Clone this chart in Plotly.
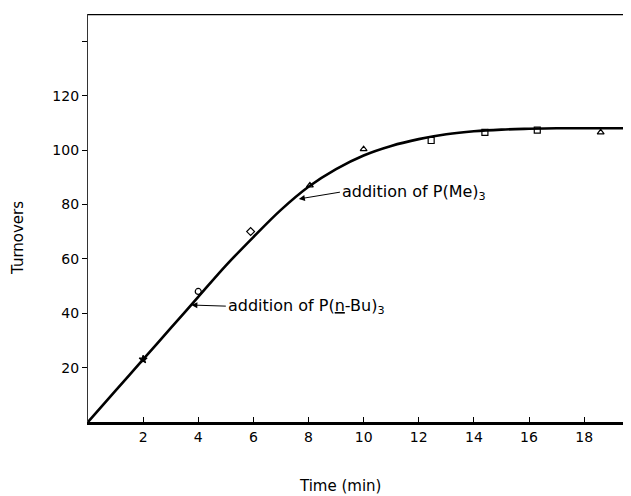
import plotly.graph_objects as go

# Measured points
time_pts = [2.0, 4.0, 5.9, 8.05, 10.0, 12.45, 14.4, 16.3, 18.6]
turnover_pts = [23, 48, 70, 87, 100.3, 103.5, 106.5, 107.3, 106.5]
point_symbols = ["star", "circle-open", "diamond-open", "triangle-up-open",
                 "triangle-up-open", "square-open", "square-open",
                 "square-open", "triangle-up-open"]

# Smooth fitted curve
curve_time = [0, 1, 2, 3, 4, 5, 6, 7, 8, 9, 10, 11, 12, 13, 14, 15, 16, 17, 18, 19, 19.7]
curve_turnovers = [0, 11.5, 23, 34.5, 46, 57.5, 68, 78, 86.5, 93, 98, 101.5, 104, 105.8,
                   106.9, 107.5, 107.8, 108, 108, 108, 108]

x_tickvals = [2, 4, 6, 8, 10, 12, 14, 16, 18]
y_tickvals = [20, 40, 60, 80, 100, 120, 140]
y_ticktext = ["20", "40", "60", "80", "100", "120", " "]

FONT = "DejaVu Sans"

# page body has an 8px margin; figure sized so it fills the window
W, H = 623, 488
L, R, T, B = 80, 0, 6, 74
PW, PH = W - L - R, H - T - B


def px(xw):
    return (xw - 8 - L) / PW


def py(yw):
    return (H - B - (yw - 8)) / PH


fig = go.Figure()
fig.add_trace(go.Scatter(x=curve_time, y=curve_turnovers, mode="lines",
                         line=dict(color="black", width=2.6, shape="spline"),
                         hoverinfo="skip", showlegend=False))
fig.add_trace(go.Scatter(x=time_pts, y=turnover_pts, mode="markers",
                         marker=dict(symbol=point_symbols, size=6, color="black",
                                     line=dict(color="black", width=1.2)),
                         showlegend=False))

# labelled arrows (arrow tip on the curve, text box at the tail)
fig.add_annotation(x=7.65, y=82, ax=9.14, ay=84.5, xref="x", yref="y", axref="x", ayref="y",
                   xanchor="left", yanchor="middle",
                   text="addition of P(Me)<sub>3</sub>", showarrow=True,
                   arrowhead=2, arrowsize=1.2, arrowwidth=1, arrowcolor="black",
                   font=dict(family=FONT, size=16, color="black"))
fig.add_annotation(x=3.75, y=43.0, ax=5.0, ay=42.6, xref="x", yref="y", axref="x", ayref="y",
                   xanchor="left", yanchor="middle",
                   text="addition of P(<u>n</u>-Bu)<sub>3</sub>", showarrow=True,
                   arrowhead=2, arrowsize=1.2, arrowwidth=1, arrowcolor="black",
                   font=dict(family=FONT, size=16, color="black"))

# axis titles
fig.add_annotation(x=px(18), y=py(238), xref="paper", yref="paper", text="Turnovers",
                   textangle=-90, showarrow=False, xanchor="center", yanchor="middle",
                   font=dict(family=FONT, size=15, color="black"))
fig.add_annotation(x=px(340), y=py(486), xref="paper", yref="paper", text="Time (min)",
                   showarrow=False, xanchor="center", yanchor="middle",
                   font=dict(family=FONT, size=15, color="black"))

# top border line
fig.add_shape(type="line", xref="paper", yref="y", x0=0, x1=1, y0=150, y1=150,
              line=dict(color="black", width=2.5))

fig.update_layout(
    width=W, height=H,
    margin=dict(l=L, r=R, t=T, b=B),
    paper_bgcolor="white", plot_bgcolor="white",
    font=dict(family=FONT, size=14, color="black"),
    xaxis=dict(range=[0, 19.7], tickvals=x_tickvals, ticks="inside", ticklen=5,
               tickcolor="black", showline=True, linecolor="black", linewidth=2.5,
               showgrid=False, zeroline=False, tickfont=dict(size=14)),
    yaxis=dict(range=[0, 150], tickvals=y_tickvals, ticktext=y_ticktext,
               ticks="outside", ticklen=5, tickcolor="black",
               showline=True, linecolor="#333", linewidth=1.2,
               showgrid=False, zeroline=False, tickfont=dict(size=14)),
)

fig.write_html("out.html")
